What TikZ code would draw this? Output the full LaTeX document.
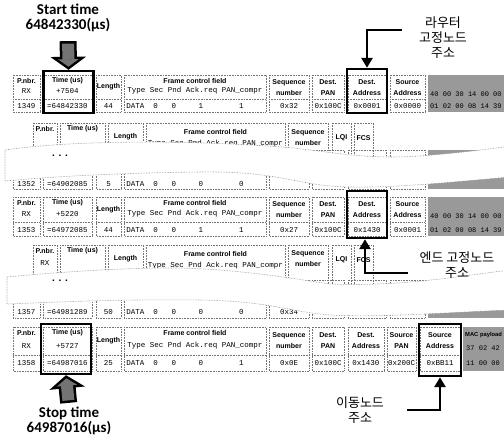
\documentclass[tikz,border=0pt]{standalone}
\usepackage{fontspec}
\setmainfont{Carlito}
\setsansfont{Liberation Sans}
\setmonofont{Liberation Mono}
\newfontfamily\korfont{Noto Sans CJK KR}
\usetikzlibrary{arrows.meta,positioning}

\newcommand\pktcols{13/40,43/92,96/121,124/266,269/309,312/344,348/386,390/425}
\newcommand\ackcols{33/57,60/105,108/143,146/285,288/328,332/351,354/373}

\begin{document}
\begin{tikzpicture}
    [x=1pt,y=-1pt,
     cell/.style={draw=black!55,densely dotted,line width=0.6pt},
     hdr/.style={font=\sffamily\bfseries\fontsize{7}{11}\selectfont,align=center,inner sep=0pt},
     val/.style={font=\ttfamily\fontsize{7.5}{9}\selectfont,inner sep=0pt},
     hex/.style={font=\ttfamily\fontsize{7}{9}\selectfont,inner sep=0pt,anchor=west},
     payload/.style={fill=black!40},
     hold/.style={draw=black,line width=2.4pt,inner sep=0pt},
     rip/.style={fill=white,draw=black!45,densely dotted,line width=0.6pt},
     gap/.style={font=\sffamily\bfseries\fontsize{10}{10}\selectfont,inner sep=0pt},
     ptr/.style={draw=black,line width=2.6pt,-{Triangle[length=10pt,width=11pt]}},
     fat/.style={draw=black,line width=17pt,-{Triangle[length=13pt,width=35pt]}},
     fatin/.style={draw=black!55,line width=12pt,-{Triangle[length=7.4pt,width=20pt]},shorten >=3.1pt},
     note/.style={font=\bfseries\fontsize{15}{15}\selectfont,align=center,inner sep=0pt},
     knote/.style={font=\korfont\fontsize{13}{15}\selectfont,align=center,inner sep=0pt}]
  \useasboundingbox (0,0) rectangle (504,441);

  % packet 1349
  \foreach \a/\b in \pktcols
    {\draw[cell] (\a,75) rectangle (\b,112); \draw[cell] (\a,99) -- (\b,99);}
  \fill[payload] (428,75) rectangle (510,112);
  \node[hdr] (r1pn) at (26.5,81) {P.nbr.};
  \node[val] (r1rx) at (26.5,91) {RX};
  \node[val] (r1no) at (26.5,106) {1349};
  \node[hdr] (r1tm) at (67.5,81) {Time (us)};
  \node[val] (r1dt) at (67.5,91) {+7504};
  \node[val] (r1ts) at (67.5,106) {=64842330};
  \node[hdr] (r1ln) at (108.5,87) {Length};
  \node[val] (r1lv) at (108.5,106) {44};
  \node[hdr] (r1fc) at (195,81) {Frame control field};
  \node[val] (r1ty) at (195,91) {Type Sec Pnd Ack.req PAN\_compr};
  \foreach \x/\v [count=\i] in {135.5/DATA,155.7/0,173.8/0,200.8/1,241.3/1}
    \node[val] (r1f\i) at (\x,106) {\v};
  \node[hdr] (r1sq) at (289,88) {Sequence\\number};
  \node[val] (r1sv) at (289,106) {0x32};
  \node[hdr] (r1dp) at (328,88) {Dest.\\PAN};
  \node[val] (r1dv) at (328,106) {0x100C};
  \node[hdr] (r1da) at (367,88) {Dest.\\Address};
  \node[val] (r1av) at (367,106) {0x0001};
  \node[hdr] (r1sa) at (407.5,88) {Source\\Address};
  \node[val] (r1ss) at (407.5,106) {0x0000};
  \node[hex] (r1p1) at (430,94) {40 00 30 14 00 00};
  \node[hex] (r1p2) at (430,106) {01 02 00 08 14 39};

  % ack, cut by the first tear
  \foreach \a/\b in \ackcols
    \draw[cell] (\a,123) rectangle (\b,168);
  \node[hdr] (r2pn) at (45,129) {P.nbr.};
  \node[hdr] (r2tm) at (82.5,129) {Time (us)};
  \node[hdr] (r2ln) at (125.5,137) {Length};
  \node[hdr] (r2fc) at (215.5,132) {Frame control field};
  \node[val] (r2ty) at (215.5,144) {Type Sec Pnd Ack.req PAN\_compr};
  \node[hdr] (r2sq) at (308,138) {Sequence\\number};
  \node[hdr] (r2lq) at (341.5,138) {LQI};
  \node[hdr] (r2fs) at (363.5,138) {FCS};
  \foreach \a/\b in \pktcols
    \draw[cell] (\a,150) rectangle (\b,189);
  \fill[payload] (428,150) rectangle (510,189);
  \node[val] (r2no) at (26.5,184) {1352};
  \node[val] (r2ts) at (67.5,184) {=64902085};
  \node[val] (r2lv) at (108.5,184) {5};
  \foreach \x/\v [count=\i] in {135.5/DATA,155.7/0,173.8/0,200.8/0,241.3/0}
    \node[val] (r2f\i) at (\x,184) {\v};
  \path[rip] (5,150) .. controls (80,139) and (200,141) .. (282,147)
    .. controls (330,151) and (362,160) .. (420,156)
    .. controls (460,153) and (490,149) .. (510,146)
    -- (510,177) .. controls (450,182) and (380,190) .. (330,186)
    .. controls (290,182) and (270,171) .. (200,172)
    .. controls (120,173) and (60,176) .. (5,181) -- cycle;
  \node[gap] (gap1) at (60,156) {. . .};

  % packet 1353
  \foreach \a/\b in \pktcols
    {\draw[cell] (\a,197) rectangle (\b,236); \draw[cell] (\a,222) -- (\b,222);}
  \fill[payload] (428,197) rectangle (510,236);
  \node[hdr] (r3pn) at (26.5,203) {P.nbr.};
  \node[val] (r3rx) at (26.5,214) {RX};
  \node[val] (r3no) at (26.5,230) {1353};
  \node[hdr] (r3tm) at (67.5,203) {Time (us)};
  \node[val] (r3dt) at (67.5,214) {+5220};
  \node[val] (r3ts) at (67.5,230) {=64972085};
  \node[hdr] (r3ln) at (108.5,210) {Length};
  \node[val] (r3lv) at (108.5,230) {44};
  \node[hdr] (r3fc) at (195,203) {Frame control field};
  \node[val] (r3ty) at (195,214) {Type Sec Pnd Ack.req PAN\_compr};
  \foreach \x/\v [count=\i] in {135.5/DATA,155.7/0,173.8/0,200.8/1,241.3/1}
    \node[val] (r3f\i) at (\x,230) {\v};
  \node[hdr] (r3sq) at (289,210) {Sequence\\number};
  \node[val] (r3sv) at (289,230) {0x27};
  \node[hdr] (r3dp) at (328,210) {Dest.\\PAN};
  \node[val] (r3dv) at (328,230) {0x100C};
  \node[hdr] (r3da) at (367,210) {Dest.\\Address};
  \node[val] (r3av) at (367,230) {0x1430};
  \node[hdr] (r3sa) at (407.5,210) {Source\\Address};
  \node[val] (r3ss) at (407.5,230) {0x0001};
  \node[hex] (r3p1) at (430,216) {40 00 30 14 00 00};
  \node[hex] (r3p2) at (430,230) {01 02 00 08 14 39};

  % ack, cut by the second tear
  \foreach \a/\b in \ackcols
    \draw[cell] (\a,245) rectangle (\b,290);
  \node[hdr] (r4pn) at (45,251) {P.nbr.};
  \node[val] (r4rx) at (45,263) {RX};
  \node[hdr] (r4tm) at (82.5,251) {Time (us)};
  \node[hdr] (r4ln) at (125.5,259) {Length};
  \node[hdr] (r4fc) at (215.5,254) {Frame control field};
  \node[val] (r4ty) at (215.5,266) {Type Sec Pnd Ack.req PAN\_compr};
  \node[hdr] (r4sq) at (308,259) {Sequence\\number};
  \node[hdr] (r4lq) at (341.5,260) {LQI};
  \node[hdr] (r4fs) at (363.5,260) {FCS};
  \foreach \a/\b in \pktcols
    \draw[cell] (\a,280) rectangle (\b,318);
  \fill[payload] (428,280) rectangle (510,318);
  \node[val] (r4no) at (26.5,312) {1357};
  \node[val] (r4ts) at (67.5,312) {=64981289};
  \node[val] (r4lv) at (108.5,312) {50};
  \foreach \x/\v [count=\i] in {135.5/DATA,155.7/0,173.8/0,200.8/0,241.3/0}
    \node[val] (r4f\i) at (\x,312) {\v};
  \node[val] (r4sv) at (289,312) {0x34};
  \path[rip] (7,277) .. controls (60,272) and (120,268) .. (170,268)
    .. controls (230,268) and (290,278) .. (330,284)
    .. controls (400,287) and (460,276) .. (510,270)
    -- (510,310) .. controls (450,312) and (380,318) .. (330,315)
    .. controls (290,312) and (270,301) .. (200,300)
    .. controls (120,299) and (60,302) .. (7,304) -- cycle;
  \node[gap] (gap2) at (60,281) {. . .};

  % packet 1358
  \foreach \a/\b in {13/40,43/92,96/121,124/266,269/309,312/344,348/384,387/416,420/460}
    {\draw[cell] (\a,327) rectangle (\b,371); \draw[cell] (\a,355) -- (\b,355);}
  \fill[payload] (463,327) rectangle (510,371);
  \node[hdr] (r5pn) at (26.5,333) {P.nbr.};
  \node[val] (r5rx) at (26.5,346) {RX};
  \node[val] (r5no) at (26.5,363) {1358};
  \node[hdr] (r5tm) at (67.5,333) {Time (us)};
  \node[val] (r5dt) at (67.5,346) {+5727};
  \node[val] (r5ts) at (67.5,363) {=64987016};
  \node[hdr] (r5ln) at (108.5,341) {Length};
  \node[val] (r5lv) at (108.5,363) {25};
  \node[hdr] (r5fc) at (195,333) {Frame control field};
  \node[val] (r5ty) at (195,346) {Type Sec Pnd Ack.req PAN\_compr};
  \foreach \x/\v [count=\i] in {135.5/DATA,155.7/0,173.8/0,200.8/0,241.3/1}
    \node[val] (r5f\i) at (\x,363) {\v};
  \node[hdr] (r5sq) at (289,341) {Sequence\\number};
  \node[val] (r5sv) at (289,363) {0x0E};
  \node[hdr] (r5dp) at (328,341) {Dest.\\PAN};
  \node[val] (r5dv) at (328,363) {0x100C};
  \node[hdr] (r5da) at (366,341) {Dest.\\Address};
  \node[val] (r5av) at (366,363) {0x1430};
  \node[hdr] (r5sp) at (401.5,341) {Source\\PAN};
  \node[val] (r5pv) at (401.5,363) {0x200C};
  \node[hdr] (r5sa) at (440,341) {Source\\Address};
  \node[val] (r5ss) at (440,363) {0xBB11};
  \node[hdr,anchor=west,font=\sffamily\bfseries\fontsize{5.8}{7}\selectfont] (r5mp) at (465,335) {MAC payload};
  \node[hex] (r5p1) at (466,348) {37 02 42};
  \node[hex] (r5p2) at (466,363) {11 00 00};

  % highlighted fields
  \node[hold,minimum width=50pt,minimum height=42pt] (r1tmb) at (68.5,92) {};
  \node[hold,minimum width=40pt,minimum height=44pt] (r1dst) at (367,91) {};
  \node[hold,minimum width=40pt,minimum height=47pt] (r3dst) at (367,214.5) {};
  \node[hold,minimum width=50pt,minimum height=50pt] (r5tmb) at (66,349) {};
  \node[hold,minimum width=42pt,minimum height=52pt] (r5src) at (440,350) {};

  % labels and pointers
  \node[note] (startlbl) at (68,18) {Start time\\64842330(µs)};
  \node[note] (stoplbl) at (69,421) {Stop time\\64987016(µs)};
  \draw[fat,shorten <=9pt] (startlbl.south) -- (r1tmb.north);
  \draw[fatin,shorten <=11.5pt] (startlbl.south) -- (r1tmb.north);
  \draw[fat,shorten <=4pt] (stoplbl.north) -- (r5tmb.south);
  \draw[fatin,shorten <=6.5pt] (stoplbl.north) -- (r5tmb.south);
  \node[knote] (rlbl) at (443,38) {라우터\\고정노드\\주소};
  \node[knote] (elbl) at (457,265) {엔드 고정노드\\주소};
  \node[knote] (mlbl) at (360,410) {이동노드\\주소};
  \coordinate (rtail) at (402,30);
  \coordinate (etail) at (408,273);
  \coordinate (mtail) at (407,410);
  \draw[ptr] (rtail) -| (r1dst.north);
  \draw[ptr] (etail) -| ([xshift=-2pt]r3dst.south);
  \draw[ptr] (mtail) -| (r5src.south);
\end{tikzpicture}
\end{document}
